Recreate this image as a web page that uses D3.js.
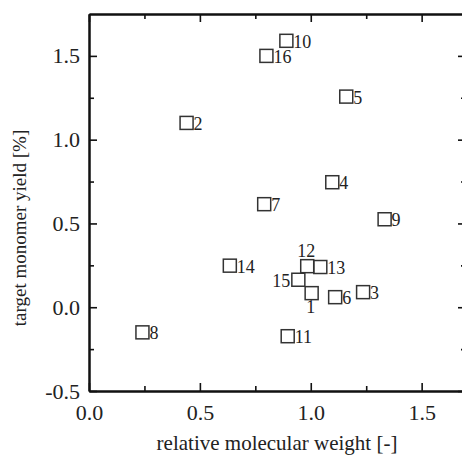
<!DOCTYPE html>
<html>
<head>
<meta charset="utf-8">
<script src="https://cdn.jsdelivr.net/npm/d3@7"></script>
<style>
  body { margin: 0; background: #fff; }
</style>
</head>
<body>
<div id="chart"></div>
<script>
// data
var sampleIds = ["1","2","3","4","5","6","7","8","9","10","11","12","13","14","15","16"];
var molWeight = [1.004, 0.44, 1.236, 1.097, 1.16, 1.11, 0.79, 0.241, 1.333, 0.89, 0.896, 0.984, 1.043, 0.635, 0.944, 0.80];
var monomerYield = [0.084, 1.10, 0.09, 0.746, 1.257, 0.06, 0.615, -0.15, 0.525, 1.59, -0.173, 0.245, 0.24, 0.248, 0.164, 1.50];
var labelSide = ["below","right","right","right","right","right","right","right","right","right","right","above","right","right","left","right"];
var xTicks = [0.0, 0.5, 1.0, 1.5];
var xMinor = [0.25, 0.75, 1.25];
var yTicks = [-0.5, 0.0, 0.5, 1.0, 1.5];
var yMinor = [-0.25, 0.25, 0.75, 1.25];

var FONT = "'Liberation Serif', 'Times New Roman', Times, serif";
var W = 462, H = 460;
var margin = {top: 14, right: -4, bottom: 69, left: 89},
    width = W - margin.left - margin.right,
    height = H - margin.top - margin.bottom;

var svg = d3.select("#chart").append("svg")
    .attr("width", W)
    .attr("height", H);

var g = svg.append("g")
    .attr("transform", "translate(" + margin.left + "," + margin.top + ")");

var x = d3.scaleLinear().domain([0, 1.7]).range([0, width]);
var y = d3.scaleLinear().domain([-0.5, 1.75]).range([height, 0]);

// hyphen instead of unicode minus, like the original
var fmt = function(d) { return d3.format(".1f")(d).replace("\u2212", "-"); };

function styleAxis(sel) {
  sel.attr("font-family", FONT);
  sel.select(".domain").attr("stroke", "#111").attr("stroke-width", 2);
  sel.selectAll(".tick line").attr("stroke", "#111").attr("stroke-width", 1.6);
  sel.selectAll("text").style("font-family", FONT).style("font-size", "22px").attr("fill", "#222");
}

// bottom
g.append("g").attr("transform", "translate(0," + height + ")")
  .call(d3.axisBottom(x).tickValues(xMinor).tickSize(-5).tickSizeOuter(0).tickFormat(""))
  .call(styleAxis);
g.append("g").attr("transform", "translate(0," + height + ")")
  .call(d3.axisBottom(x).tickValues(xTicks).tickSize(-8).tickSizeOuter(0).tickPadding(13).tickFormat(fmt))
  .call(styleAxis);
// top
g.append("g")
  .call(d3.axisTop(x).tickValues(xMinor).tickSize(-5).tickSizeOuter(0).tickFormat(""))
  .call(styleAxis);
g.append("g")
  .call(d3.axisTop(x).tickValues(xTicks).tickSize(-8).tickSizeOuter(0).tickFormat(""))
  .call(styleAxis);
// left
g.append("g")
  .call(d3.axisLeft(y).tickValues(yMinor).tickSize(-5).tickSizeOuter(0).tickFormat(""))
  .call(styleAxis);
g.append("g")
  .call(d3.axisLeft(y).tickValues(yTicks).tickSize(-8).tickSizeOuter(0).tickPadding(9).tickFormat(fmt))
  .call(styleAxis);
// right
g.append("g").attr("transform", "translate(" + width + ",0)")
  .call(d3.axisRight(y).tickValues(yMinor).tickSize(-5).tickSizeOuter(0).tickFormat(""))
  .call(styleAxis);
g.append("g").attr("transform", "translate(" + width + ",0)")
  .call(d3.axisRight(y).tickValues(yTicks).tickSize(-8).tickSizeOuter(0).tickFormat(""))
  .call(styleAxis);

// points
var pts = sampleIds.map(function(id, i) {
  return {id: id, x: molWeight[i], y: monomerYield[i], side: labelSide[i]};
});

var s = 13;
g.selectAll("rect.pt")
  .data(pts)
  .enter()
  .append("rect")
    .attr("class", "pt")
    .attr("x", function(d) { return x(d.x) - s / 2; })
    .attr("y", function(d) { return y(d.y) - s / 2; })
    .attr("width", s)
    .attr("height", s)
    .attr("fill", "none")
    .attr("stroke", "#333")
    .attr("stroke-width", 1.5);

g.selectAll("text.lbl")
  .data(pts)
  .enter()
  .append("text")
    .attr("class", "lbl")
    .style("font-family", FONT)
    .style("font-size", "18px")
    .attr("fill", "#222")
    .attr("text-anchor", function(d) {
      return d.side == "left" ? "end" : (d.side == "right" ? "start" : "middle");
    })
    .attr("x", function(d) {
      if (d.side == "right") return x(d.x) + 7;
      if (d.side == "left") return x(d.x) - 8;
      return x(d.x) - 1;
    })
    .attr("y", function(d) {
      if (d.side == "above") return y(d.y) - 9;
      if (d.side == "below") return y(d.y) + 20;
      return y(d.y) + 7;
    })
    .text(function(d) { return d.id; });

// axis titles
svg.append("text")
  .attr("x", 277)
  .attr("y", 450)
  .attr("text-anchor", "middle")
  .style("font-family", FONT)
  .style("font-size", "21px")
  .attr("fill", "#222")
  .text("relative molecular weight [-]");

svg.append("text")
  .attr("transform", "translate(26,228) rotate(-90)")
  .attr("text-anchor", "middle")
  .style("font-family", FONT)
  .style("font-size", "19px")
  .attr("fill", "#222")
  .text("target monomer yield [%]");
</script>
</body>
</html>
